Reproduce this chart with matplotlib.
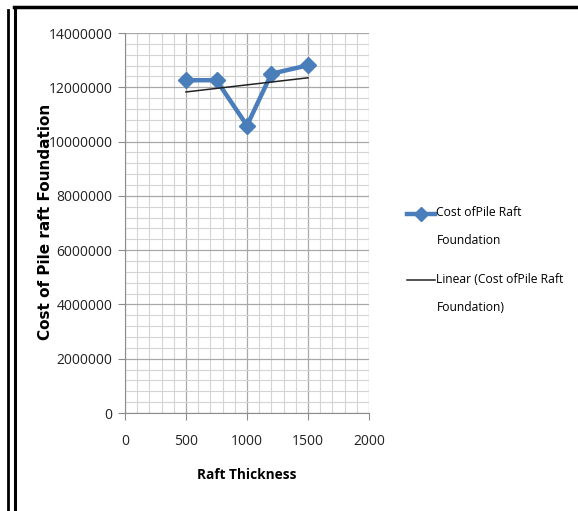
import numpy as np
import matplotlib.pyplot as plt
from matplotlib.lines import Line2D
from matplotlib.legend_handler import HandlerLine2D
from matplotlib.ticker import MultipleLocator

# data
thickness = [500, 750, 1000, 1200, 1500]
cost = [12260000, 12260000, 10590000, 12500000, 12810000]
series_label = 'Cost ofPile Raft\nFoundation'
trend_label = 'Linear (Cost ofPile Raft\nFoundation)'

narrow = ['Open Sans', 'DejaVu Sans']


class FirstLineHandler(HandlerLine2D):
    # put the legend key level with the first line of a two-line label
    def create_artists(self, legend, orig_handle, xdescent, ydescent,
                       width, height, fontsize, trans):
        return super().create_artists(legend, orig_handle, xdescent,
                                      ydescent - 20, width, height,
                                      fontsize, trans)


W, H = 578, 511
fig = plt.figure(figsize=(W / 100, H / 100), dpi=100)
ax = fig.add_axes([125 / W, 1 - 413 / H, 244 / W, 380 / H])

# linear trend line through the data
k, b = np.polyfit(thickness, cost, 1)
tx = np.array([thickness[0], thickness[-1]])

ax.plot(thickness, cost, color='#4a7ebb', lw=3.2, marker='D', ms=8.5,
        label=series_label, zorder=3)
ax.plot(tx, k * tx + b, color='#222222', lw=1.1, label=trend_label, zorder=4)

ax.set_xlim(0, 2000)
ax.set_ylim(0, 14000000)
ax.xaxis.set_major_locator(MultipleLocator(500))
ax.xaxis.set_minor_locator(MultipleLocator(100))
ax.yaxis.set_major_locator(MultipleLocator(2000000))
ax.yaxis.set_minor_locator(MultipleLocator(400000))
ax.grid(which='major', color='#a8a8a8', lw=0.9)
ax.grid(which='minor', color='#d4d4d4', lw=0.8)
ax.set_axisbelow(True)

for s in ['top', 'right']:
    ax.spines[s].set_visible(False)
for s in ['left', 'bottom']:
    ax.spines[s].set_color('#8c8c8c')
ax.tick_params(which='major', length=5, color='#8c8c8c', labelsize=10)
ax.tick_params(axis='x', pad=10)
ax.tick_params(axis='y', pad=4)
ax.tick_params(which='minor', length=0)
for lab in ax.get_xticklabels() + ax.get_yticklabels():
    lab.set_family(narrow)
    lab.set_color('#222222')
ax.ticklabel_format(axis='y', style='plain', useOffset=False)

ax.set_xlabel('Raft Thickness', family=narrow, fontweight='bold', fontsize=9.8)
ax.xaxis.set_label_coords(0.5, -(468 - 413) / 380)
ax.set_ylabel('Cost of Pile raft Foundation', fontweight='bold', fontsize=11)
ax.yaxis.set_label_coords(-(125 - 53) / 244, 0.503)

leg = fig.legend(loc='center left', bbox_to_anchor=(396 / W, 1 - 260 / H),
                 frameon=False, prop={'family': narrow, 'size': 8.7},
                 handlelength=2.3, handletextpad=0.15, labelspacing=2.1,
                 markerscale=0.8,
                 handler_map={Line2D: FirstLineHandler()})
for t in leg.get_texts():
    t.set_linespacing(2.5)

# frame lines around the picture
fig.add_artist(Line2D([7.5 / W, 7.5 / W], [0, 1 - 10 / H], color='black', lw=2,
                      transform=fig.transFigure))
fig.add_artist(Line2D([14.5 / W, 14.5 / W], [0, 1 - 7.5 / H], color='black', lw=2.2,
                      transform=fig.transFigure))
fig.add_artist(Line2D([13.5 / W, 1], [1 - 7.5 / H, 1 - 7.5 / H], color='black', lw=2.5,
                      transform=fig.transFigure))

fig.savefig('out.png', dpi=100)
